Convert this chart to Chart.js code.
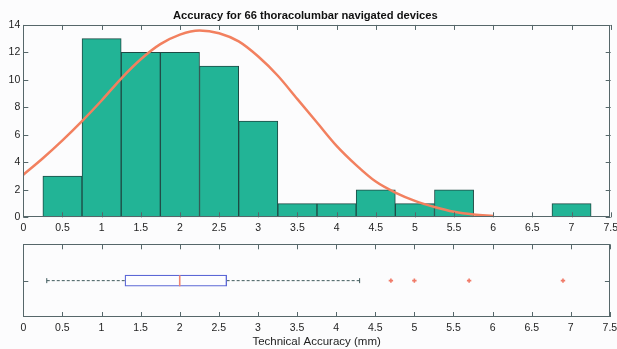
<!DOCTYPE html>
<html>
<head>
<meta charset="utf-8">
<script src="https://cdn.jsdelivr.net/npm/chart.js@4.4.0/dist/chart.umd.min.js"></script>
<style>
  html, body { margin: 0; padding: 0; background: #fcfcfd; }
  #wrap { position: relative; width: 617px; height: 349px; }
  #histWrap { position: absolute; left: 0; top: 0; width: 617px; height: 240px; }
  #boxWrap { position: absolute; left: 0; top: 235px; width: 617px; height: 114px; }
</style>
</head>
<body>
<div id="wrap">
  <div id="histWrap"><canvas id="histChart"></canvas></div>
  <div id="boxWrap"><canvas id="boxChart"></canvas></div>
</div>
<script>
// histogram bins (mm) and counts, 66 devices
const binCenters = [0.5, 1, 1.5, 2, 2.5, 3, 3.5, 4, 4.5, 5, 5.5, 6, 6.5, 7];
const binCounts = [3, 13, 12, 12, 11, 7, 1, 1, 2, 1, 2, 0, 0, 1];

// fitted curve
const curveX = [0, 0.25, 0.5, 0.75, 1, 1.25, 1.5, 1.75, 2, 2.25, 2.5, 2.75, 3, 3.25, 3.5, 3.75, 4, 4.25, 4.5, 4.75, 5, 5.25, 5.5, 5.75, 6];
const curveY = [3.1, 4.3, 5.6, 7.0, 8.5, 10.1, 11.5, 12.6, 13.3, 13.6, 13.4, 12.8, 11.7, 10.3, 8.6, 6.9, 5.2, 3.8, 2.6, 1.8, 1.2, 0.75, 0.4, 0.2, 0.1];

// box plot: low whisker, Q1, median, Q3, high whisker
const boxStats = [0.3, 1.3, 2.0, 2.6, 4.3];
const outliers = [4.7, 5.0, 5.7, 6.9];

const X_MIN = 0, X_MAX = 7.5, X_STEP = 0.5;
const Y_MAX = 14, Y_STEP = 2;

const AXIS_COLOR = '#56676a';
const TEXT_COLOR = '#1e1e1e';
const tickFont = { family: 'Liberation Sans, Arial, sans-serif', size: 10.5 };

// MATLAB style frame with inward ticks
const frameTicks = {
  id: 'frameTicks',
  afterDraw(chart, args, opts) {
    const { ctx, chartArea: a } = chart;
    const xs = chart.scales.x, ys = chart.scales.y;
    const len = 5;
    ctx.save();
    ctx.strokeStyle = AXIS_COLOR;
    ctx.lineWidth = 1;
    ctx.beginPath();
    xs.ticks.forEach((t) => {
      const px = Math.round(xs.getPixelForValue(t.value)) + 0.5;
      ctx.moveTo(px, a.bottom); ctx.lineTo(px, a.bottom - len);
      ctx.moveTo(px, a.top); ctx.lineTo(px, a.top + len);
    });
    const yVals = (opts && opts.yValues) || ys.ticks.map((t) => t.value);
    yVals.forEach((v) => {
      const py = Math.round(ys.getPixelForValue(v)) + 0.5;
      ctx.moveTo(a.left, py); ctx.lineTo(a.left + len, py);
      ctx.moveTo(a.right, py); ctx.lineTo(a.right - len, py);
    });
    ctx.stroke();
    ctx.strokeRect(Math.round(a.left) + 0.5, Math.round(a.top) + 0.5,
      Math.round(a.width) - 1, Math.round(a.height) - 1);
    ctx.restore();
  }
};

function xAxis(height, extra) {
  return Object.assign({
    type: 'linear',
    min: X_MIN,
    max: X_MAX,
    offset: false,
    grid: { display: false, drawTicks: false, offset: false },
    border: { display: false },
    ticks: {
      stepSize: X_STEP, autoSkip: false, maxRotation: 0, padding: 5,
      color: TEXT_COLOR, font: tickFont,
      callback: (v) => String(v)
    },
    afterFit: (s) => { s.height = height; s.paddingLeft = 0; s.paddingRight = 0; }
  }, extra || {});
}

function initHistogram() {
  const el = document.getElementById('histChart');
  new Chart(el, {
    type: 'bar',
    data: {
      datasets: [{
        type: 'line',
        data: curveX.map((x, i) => ({ x, y: curveY[i] })),
        borderColor: '#f2805f',
        borderWidth: 2.5,
        pointRadius: 0,
        cubicInterpolationMode: 'monotone',
        order: 0
      }, {
        type: 'bar',
        data: binCenters.map((x, i) => ({ x, y: binCounts[i] })),
        backgroundColor: '#22b496',
        borderColor: '#1e4a44',
        borderWidth: 1,
        barPercentage: 1,
        categoryPercentage: 1,
        order: 1
      }]
    },
    options: {
      responsive: true,
      maintainAspectRatio: false,
      animation: false,
      layout: { padding: { left: 0, right: 6.3, top: 0, bottom: 0 } },
      plugins: {
        legend: { display: false },
        tooltip: { enabled: false },
        title: {
          display: true,
          text: 'Accuracy for 66 thoracolumbar navigated devices',
          color: '#111',
          font: { family: 'Liberation Sans, Arial, sans-serif', size: 11.2, weight: 'bold' },
          padding: { top: 9.5, bottom: 2 }
        }
      },
      scales: {
        x: xAxis(22.7),
        y: {
          min: 0,
          max: Y_MAX,
          grid: { display: false, drawTicks: false },
          border: { display: false },
          ticks: { stepSize: Y_STEP, padding: 3, color: TEXT_COLOR, font: tickFont },
          afterFit: (s) => { s.width = 23.3; s.paddingTop = 0; s.paddingBottom = 0; }
        }
      }
    },
    plugins: [frameTicks]
  });
}

function initBoxPlot() {
  const el = document.getElementById('boxChart');
  const [lo, q1, med, q3, hi] = boxStats;
  const whisker = {
    type: 'line',
    borderColor: '#3f5a5c',
    borderWidth: 1,
    borderDash: [3, 2],
    pointRadius: 0,
    order: 3
  };
  new Chart(el, {
    type: 'scatter',
    data: {
      datasets: [
        Object.assign({ data: [{ x: lo, y: 1 }, { x: q1, y: 1 }] }, whisker),
        Object.assign({ data: [{ x: q3, y: 1 }, { x: hi, y: 1 }] }, whisker),
        {
          type: 'scatter',
          data: [{ x: lo, y: 1 }, { x: hi, y: 1 }],
          pointStyle: 'line',
          rotation: 90,
          radius: 2.5,
          borderColor: '#3f5a5c',
          borderWidth: 1,
          order: 2
        },
        {
          type: 'bar',
          indexAxis: 'y',
          data: [{ x: [q1, q3], y: 1 }],
          backgroundColor: '#fdfdff',
          borderColor: '#5b67d6',
          borderWidth: 1.3,
          borderSkipped: false,
          barThickness: 11,
          order: 1
        },
        {
          type: 'scatter',
          data: [{ x: med, y: 1 }],
          pointStyle: 'line',
          rotation: 90,
          radius: 5.5,
          borderColor: '#f08472',
          borderWidth: 1.6,
          order: 0
        },
        {
          type: 'scatter',
          data: outliers.map((x) => ({ x, y: 1 })),
          pointStyle: 'cross',
          radius: 2.2,
          borderColor: '#f07a68',
          borderWidth: 1.6,
          order: 0
        }
      ]
    },
    options: {
      responsive: true,
      maintainAspectRatio: false,
      animation: false,
      layout: { padding: { left: 0, right: 5.7, top: 9.3, bottom: 0 } },
      plugins: { legend: { display: false }, tooltip: { enabled: false } },
      scales: {
        x: xAxis(32, {
          title: {
            display: true,
            text: 'Technical Accuracy (mm)',
            color: TEXT_COLOR,
            font: { family: 'Liberation Sans, Arial, sans-serif', size: 11.5 },
            padding: { top: 0, bottom: 0 }
          }
        }),
        y: {
          type: 'linear',
          min: 0,
          max: 2,
          offset: false,
          grid: { display: false, drawTicks: false },
          border: { display: false },
          ticks: { display: false, stepSize: 1 },
          afterFit: (s) => { s.width = 23.3; s.paddingTop = 0; s.paddingBottom = 0; }
        }
      }
    },
    plugins: [{ id: 'frameTicksBox', afterDraw: (c, a) => frameTicks.afterDraw(c, a, { yValues: [1] }) }]
  });
}

document.addEventListener('DOMContentLoaded', () => {
  initHistogram();
  initBoxPlot();
});
</script>
</body>
</html>
